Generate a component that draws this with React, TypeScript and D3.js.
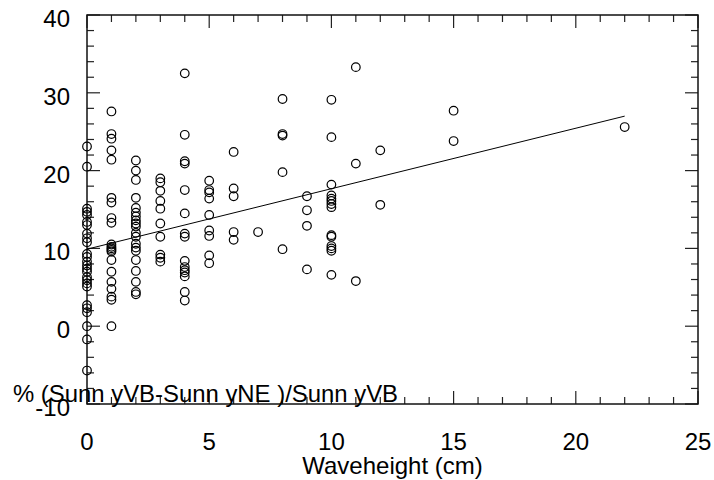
import React from "react";
import * as d3 from "d3";

// Waveheight levels (cm) and the % differences observed at each level
const waveLevels = [0, 1, 2, 3, 4, 5, 6, 7, 8, 9, 10, 11, 12, 15, 22];
const diffsByLevel: number[][] = [
  [23.1, 20.5, 15.1, 14.7, 14.3, 13.4, 13.0, 11.9, 11.3, 10.8, 9.3, 8.9, 8.3, 7.8, 7.4, 7.0, 6.3, 5.9, 5.5, 5.1, 2.7, 2.3, 1.8, 0.0, -1.7, -5.7],
  [27.6, 24.7, 24.1, 22.6, 21.4, 16.5, 15.9, 13.9, 13.3, 10.5, 10.2, 10.0, 9.8, 9.6, 8.5, 7.0, 5.7, 4.8, 3.8, 3.4, 0.0],
  [21.3, 20.0, 18.8, 16.5, 15.2, 14.6, 14.1, 13.6, 13.2, 12.8, 12.0, 11.5, 10.6, 10.1, 9.7, 8.5, 7.1, 5.7, 4.4, 4.1],
  [19.0, 18.5, 17.4, 16.1, 15.1, 13.2, 11.5, 9.2, 8.8, 8.3],
  [32.5, 24.6, 21.2, 20.9, 17.5, 14.5, 11.9, 11.5, 8.4, 7.6, 7.2, 6.9, 6.4, 4.4, 3.3],
  [18.7, 17.5, 17.2, 16.4, 14.3, 12.3, 11.6, 9.1, 8.1],
  [22.4, 17.7, 16.7, 12.1, 11.1],
  [12.1],
  [29.2, 24.7, 24.5, 19.8, 9.9],
  [16.7, 14.9, 12.9, 7.3],
  [29.1, 24.3, 18.2, 16.8, 16.4, 16.1, 15.7, 15.3, 11.7, 11.5, 10.3, 10.0, 9.7, 6.6],
  [33.3, 20.9, 5.8],
  [22.6, 15.6],
  [27.7, 23.8],
  [25.6],
];

// Fitted line endpoints
const fitX = [0, 22];
const fitY = [9.9, 27.0];

const xMajorTicks = [0, 5, 10, 15, 20, 25];
const yMajorTicks = [-10, 0, 10, 20, 30, 40];
const xLabel = "Waveheight (cm)";
const yLabel = "% (Sunn yVB-Sunn yNE )/Sunn yVB";

export default function App() {
  const W = 714, H = 480;
  const left = 87, right = 698, top = 15, bottom = 404;
  const x = d3.scaleLinear().domain([0, 25]).range([left, right]);
  const y = d3.scaleLinear().domain([-10, 40]).range([bottom, top]);

  const xMinor = d3.range(0, 26, 1);
  const yMinor = d3.range(-10, 41, 2);
  const font = "Arial, 'Liberation Sans', Helvetica, sans-serif";
  const tickCol = "#222";

  const points: { wx: number; v: number }[] = [];
  waveLevels.forEach((w, i) => diffsByLevel[i].forEach((v) => points.push({ wx: w, v })));

  const line = d3
    .line<number>()
    .x((_, i) => x(fitX[i]))
    .y((d) => y(d))(fitY);

  return (
    <svg
      width={W}
      height={H}
      style={{ position: "absolute", left: 0, top: 0, background: "#fff" }}
      fontFamily={font}
    >
      <rect x={0} y={0} width={W} height={H} fill="#fff" />
      {/* ticks */}
      {xMinor.map((t) => {
        const len = t % 5 === 0 ? 13 : 7;
        return (
          <g key={"xt" + t} stroke={tickCol} strokeWidth={1.2}>
            <line x1={x(t)} x2={x(t)} y1={bottom} y2={bottom - len} />
            <line x1={x(t)} x2={x(t)} y1={top} y2={top + len} />
          </g>
        );
      })}
      {yMinor.map((t) => {
        const len = t % 10 === 0 ? 13 : 7;
        return (
          <g key={"yt" + t} stroke={tickCol} strokeWidth={1.2}>
            <line x1={left} x2={left + len} y1={y(t)} y2={y(t)} />
            <line x1={right} x2={right - len} y1={y(t)} y2={y(t)} />
          </g>
        );
      })}
      {/* frame */}
      <rect x={left} y={top} width={right - left} height={bottom - top} fill="none" stroke="#111" strokeWidth={1.5} />

      {/* fit line */}
      <path d={line || ""} fill="none" stroke="#000" strokeWidth={1} />

      {/* points */}
      {points.map((p, i) => (
        <circle key={i} cx={x(p.wx)} cy={y(p.v)} r={4.3} fill="none" stroke="#000" strokeWidth={1.2} />
      ))}

      {/* tick labels */}
      {xMajorTicks.map((t) => (
        <text key={"xl" + t} x={x(t)} y={bottom + 46} fontSize={24} textAnchor="middle" fill="#000">
          {t}
        </text>
      ))}
      {yMajorTicks.map((t) => (
        <text key={"yl" + t} x={70} y={y(t) + 12} fontSize={24} textAnchor="end" fill="#000">
          {t}
        </text>
      ))}

      <text x={(left + right) / 2} y={474} fontSize={24} textAnchor="middle" fill="#000">
        {xLabel}
      </text>
      <text x={13} y={402} fontSize={24} fill="#000" textLength={385} lengthAdjust="spacingAndGlyphs">
        {yLabel}
      </text>
    </svg>
  );
}
